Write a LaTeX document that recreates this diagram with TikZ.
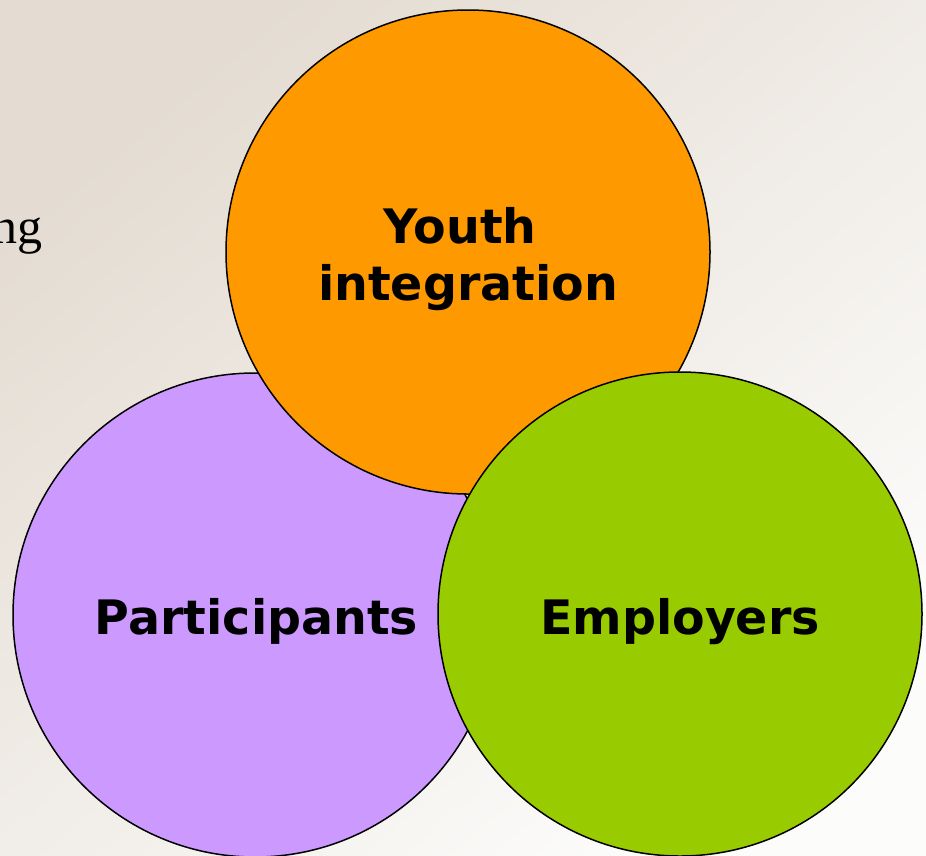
\documentclass[tikz,border=0pt]{standalone}
\usepackage{fontspec}
\setmainfont{DejaVu Sans}
\newfontfamily\serifcut{Liberation Serif}
\definecolor{bgtl}{RGB}{228,220,210}
\definecolor{bgbr}{RGB}{252,252,251}
\definecolor{corange}{RGB}{255,153,0}
\definecolor{cpurple}{RGB}{204,153,255}
\definecolor{cgreen}{RGB}{153,204,0}
\tikzset{
  venn/.style={circle, draw=black, line width=1.5pt, inner sep=0pt, minimum size=484pt},
  lbl/.style={font=\fontsize{47.5}{57}\selectfont\bfseries, text=black, align=center, inner sep=0pt}
}
\begin{document}
\begin{tikzpicture}[x=1pt,y=-1pt]
\useasboundingbox (0,0) rectangle (926,855);
\shade[top color=bgtl, bottom color=bgbr, shading angle=40] (0,0) rectangle (926,855);
\node[anchor=base east, inner sep=0pt, font=\serifcut\fontsize{50}{50}\selectfont] (cut) at (43,243) {ng};
\node[venn, fill=cpurple] (part) at (255,615) {};
\node[venn, fill=corange] (youth) at (468,252) {};
\node[venn, fill=cgreen] (emp) at (680,614) {};
\node[lbl, anchor=base] (pt) at (256.5,634) {Participants};
\node[lbl, anchor=base] (et) at (680,634) {Employers};
\node[lbl, anchor=base] (yt1) at (460,243) {Youth};
\node[lbl, anchor=base] (yt2) at (468,300) {integration};
\end{tikzpicture}
\end{document}
